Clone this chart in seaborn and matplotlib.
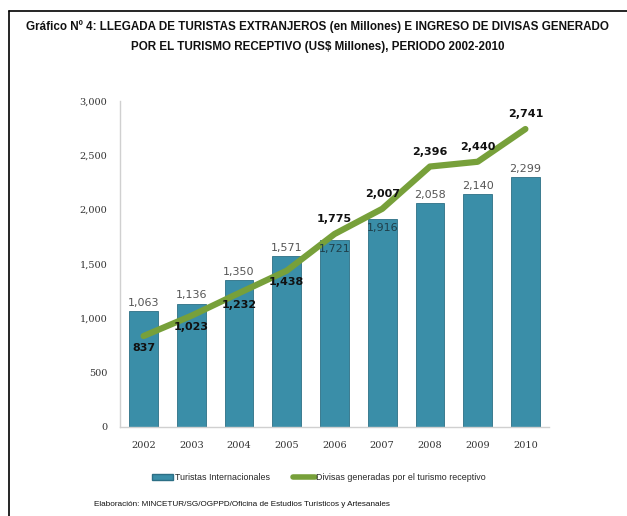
import numpy as np
import pandas as pd
import matplotlib.pyplot as plt
import seaborn as sns
from matplotlib.lines import Line2D
from matplotlib.patches import Patch

# Data
years = ["2002", "2003", "2004", "2005", "2006", "2007", "2008", "2009", "2010"]
turistas = [1063, 1136, 1350, 1571, 1721, 1916, 2058, 2140, 2299]
divisas = [837, 1023, 1232, 1438, 1775, 2007, 2396, 2440, 2741]

bar_color = "#3a8ea8"
line_color = "#77a03a"

sns.set_style("white")
plt.rcParams["font.family"] = ["Liberation Sans", "DejaVu Sans"]

df = pd.DataFrame({"year": years, "turistas": turistas, "divisas": divisas})

fig = plt.figure(figsize=(6.27, 5.16), dpi=100)
ax = fig.add_axes([0.191, 0.1725, 0.685, 0.632])

sns.barplot(data=df, x="year", y="turistas", color=bar_color, width=0.6,
            edgecolor="#2c6f85", linewidth=0.6, saturation=1, ax=ax)
sns.lineplot(x=np.arange(len(years)), y=df["divisas"], color=line_color,
             linewidth=4.5, solid_capstyle="round", ax=ax)

ax.set_ylim(0, 3000)
ax.set_xlim(-0.5, len(years) - 0.5)
ax.set_yticks(range(0, 3001, 500))
ax.set_yticklabels([f"{v:,}" for v in range(0, 3001, 500)], fontsize=7, color="#333333",
                   family="DejaVu Serif")
ax.set_xticks(range(len(years)))
ax.set_xticklabels(years, fontsize=7, color="#333333", family="DejaVu Serif")
ax.tick_params(axis="y", length=0, pad=9)
ax.tick_params(axis="x", length=0, pad=10)
ax.set_xlabel("")
ax.set_ylabel("")
for side in ["top", "right"]:
    ax.spines[side].set_visible(False)
for side in ["left", "bottom"]:
    ax.spines[side].set_color("#d0d0d0")
    ax.spines[side].set_linewidth(1)

# Bar labels
for i, v in enumerate(turistas):
    if years[i] in ("2006", "2007"):
        ax.text(i, v - 40, f"{v:,}", ha="center", va="top", fontsize=8,
                color="#1f3f4a", family="DejaVu Sans")
    else:
        ax.text(i, v + 30, f"{v:,}", ha="center", va="bottom", fontsize=8,
                color="#555555", family="DejaVu Sans")

# Line labels
for i, v in enumerate(divisas):
    if i <= 3:
        ax.text(i, v - 60, f"{v:,}", ha="center", va="top", fontsize=8,
                fontweight="bold", color="#111111", family="DejaVu Sans")
    else:
        ax.text(i, v + 90, f"{v:,}", ha="center", va="bottom", fontsize=8,
                fontweight="bold", color="#111111", family="DejaVu Sans")

# Title
fig.text(0.506, 0.948, "Gráfico Nº 4: LLEGADA DE TURISTAS EXTRANJEROS (en Millones) E INGRESO DE DIVISAS GENERADO",
         ha="center", va="center", fontsize=8.35, fontweight="bold", color="#111111")
fig.text(0.506, 0.909, "POR EL TURISMO RECEPTIVO (US$ Millones), PERIODO 2002-2010",
         ha="center", va="center", fontsize=8.35, fontweight="bold", color="#111111")

# Legend
handles = [Patch(facecolor=bar_color, edgecolor="#2c6f85"),
           Line2D([0], [0], color=line_color, linewidth=4)]
fig.legend(handles, ["Turistas Internacionales", "Divisas generadas por el turismo receptivo"],
           loc="center", bbox_to_anchor=(0.509, 0.074), ncol=2, frameon=False,
           fontsize=6.4, handlelength=2.4, columnspacing=2.6, handletextpad=0.2)

# Footer
fig.text(0.150, 0.022, "Elaboración: MINCETUR/SG/OGPPD/Oficina de Estudios Turísticos y Artesanales",
         ha="left", va="center", fontsize=5.85, color="#111111")

# Frame lines
fig.add_artist(Line2D([0.015, 0.015], [0.0, 0.979], color="black", linewidth=1.2,
                      transform=fig.transFigure))
fig.add_artist(Line2D([0.015, 1.0], [0.979, 0.979], color="black", linewidth=1.2,
                      transform=fig.transFigure))

fig.savefig("out.png", dpi=100)
